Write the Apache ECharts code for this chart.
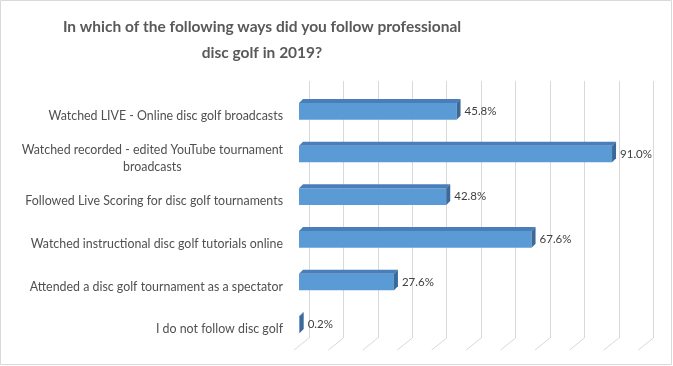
<!DOCTYPE html>
<html><head><meta charset="utf-8">
<script src="https://cdn.jsdelivr.net/npm/echarts@6/dist/echarts.min.js"></script>
<style>html,body{margin:0;padding:0;background:#fff}#c{width:673px;height:366px}</style>
</head><body><div id="c"></div>
<script>
const titleText = "In which of the following ways did you follow professional\ndisc golf in 2019?";
const categories = [
  "Watched LIVE - Online disc golf broadcasts",
  "Watched recorded - edited YouTube tournament\nbroadcasts",
  "Followed Live Scoring for disc golf tournaments",
  "Watched instructional disc golf tutorials online",
  "Attended a disc golf tournament as a spectator",
  "I do not follow disc golf"
];
const values = [45.8, 91.0, 42.8, 67.6, 27.6, 0.2];
const gridTicks = [0, 10, 20, 30, 40, 50, 60, 70, 80, 90, 100];

const FONT = 'Lato';
const chart = echarts.init(document.getElementById('c'), null, {renderer: 'canvas'});
const DX = 4, DY = 4;

chart.setOption({
  backgroundColor: '#ffffff',
  animation: false,
  title: {
    text: titleText,
    left: 257, top: 9, textAlign: 'center',
    textStyle: {fontFamily: FONT, fontWeight: 'bold', fontSize: 15.5, color: '#595959', lineHeight: 26}
  },
  graphic: [{
    type: 'rect', silent: true, z: -1,
    shape: {x: 0.5, y: 0.5, width: 671, height: 364},
    style: {fill: 'none', stroke: '#d9d9d9', lineWidth: 1}
  }],
  grid: [
    {left: 299, top: 90, width: 344, height: 256},
    {left: 309, top: 81, width: 344.3, height: 257}
  ],
  xAxis: [
    {gridIndex: 0, type: 'value', min: 0, max: 100, interval: 10, show: false, splitLine: {show: false}},
    {gridIndex: 1, type: 'value', min: 0, max: 100, interval: 10,
     axisLine: {show: false}, axisTick: {show: false}, axisLabel: {show: false},
     splitLine: {show: true, lineStyle: {color: '#d9d9d9', width: 1}}}
  ],
  yAxis: [
    {gridIndex: 0, type: 'category', data: categories, inverse: true,
     axisLine: {show: false}, axisTick: {show: false}, splitLine: {show: false},
     axisLabel: {
       margin: 16, align: 'right', padding: [9, 0, 0, 0],
       fontFamily: FONT, fontSize: 12.4, color: '#505050', lineHeight: 17,
       formatter: v => v.split('\n').map(l => '{a|' + l + '}').join('\n'),
       rich: {a: {align: 'center', fontFamily: FONT, fontSize: 12.4, color: '#505050', lineHeight: 17}}
     }},
    {gridIndex: 1, type: 'value', min: 0, max: 1, show: false, splitLine: {show: false}}
  ],
  series: [
    {
      type: 'custom', xAxisIndex: 1, yAxisIndex: 1, silent: true,
      data: gridTicks.map(t => [t, 0]),
      renderItem: (params, api) => {
        const p = api.coord([api.value(0), 0]);
        return {type: 'line', shape: {x1: p[0], y1: p[1], x2: p[0] - 15, y2: p[1] + 12},
                style: {stroke: '#d9d9d9', lineWidth: 1}};
      }
    },
    {
      type: 'custom', xAxisIndex: 0, yAxisIndex: 0, silent: true, z: 5,
      encode: {x: 0, y: 1},
      data: values.map((v, i) => [v, i]),
      renderItem: (params, api) => {
        const v = api.value(0), c = api.value(1);
        const p0 = api.coord([0, c]);
        const p1 = api.coord([v, c]);
        const band = api.size([0, 1])[1];
        const h = band * 0.39;
        const yT = p0[1] - h / 2, yB = p0[1] + h / 2;
        const x0 = p0[0], x1 = Math.max(p1[0], x0 + 0.7);
        return {type: 'group', children: [
          {type: 'rect', shape: {x: x0, y: yT, width: x1 - x0, height: h}, style: {fill: '#5b9bd5'}},
          {type: 'polygon', shape: {points: [[x0, yT], [x0 + DX, yT - DY], [x1 + DX, yT - DY], [x1, yT]]}, style: {fill: '#4a7ebb'}},
          {type: 'polygon', shape: {points: [[x1, yT], [x1 + DX, yT - DY], [x1 + DX, yB - DY], [x1, yB]]}, style: {fill: '#3b6a9a'}},
          {type: 'text', style: {text: v.toFixed(1) + '%', x: x1 + 8, y: p0[1], verticalAlign: 'middle', align: 'left',
            fill: '#404040', fontFamily: FONT, fontSize: 11.5}}
        ]};
      }
    }
  ]
});
</script>
</body></html>
